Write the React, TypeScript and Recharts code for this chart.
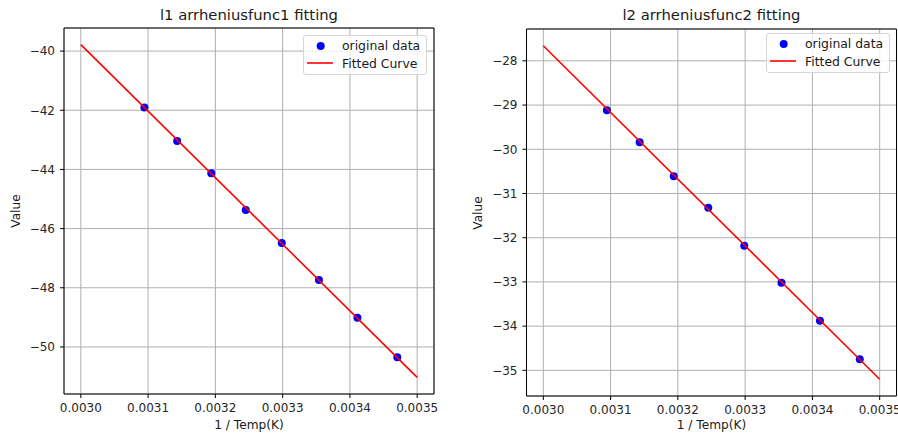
import React from "react";
import { CartesianGrid, ComposedChart, Legend, Line, ReferenceArea, Scatter, XAxis, YAxis } from "recharts";

const invTemp = [0.0030945, 0.0031432, 0.0031939, 0.0032452, 0.0032987, 0.003354, 0.0034112, 0.0034704];
const l1Values = [-41.91, -43.04, -44.13, -45.37, -46.49, -47.74, -49.01, -50.35];
const l2Values = [-29.12, -29.84, -30.61, -31.32, -32.18, -33.02, -33.88, -34.75];

const fitX = [0.003, 0.0035];
const l1Fit = [-39.78, -51.03];
const l2Fit = [-27.66, -35.2];

const xTicks = [0.003, 0.0031, 0.0032, 0.0033, 0.0034, 0.0035];
const l1Ticks = [-50, -48, -46, -44, -42, -40];
const l2Ticks = [-35, -34, -33, -32, -31, -30, -29, -28];

const xDomain: [number, number] = [0.002975, 0.003525];
const FONT = "'DejaVu Sans', sans-serif";

const fmtY = (v: number) => (v < 0 ? "\u2212" + Math.abs(v) : String(v));

function MplLegend({ payload }: any) {
  const items = [...(payload || [])].sort((a: any) => (a.type === "circle" ? -1 : 1));
  return (
    <div
      style={{
        border: "1px solid #d6d6d6",
        borderRadius: 3,
        background: "rgba(255,255,255,0.8)",
        padding: "1px 6px 2px 3px",
        fontFamily: FONT,
        fontSize: 12.4,
        color: "#1a1a1a",
        whiteSpace: "nowrap",
      }}
    >
      {items.map((it: any) => (
        <div key={it.value} style={{ display: "flex", alignItems: "center", height: 17.6 }}>
          <svg width={35} height={12} style={{ flex: "none" }}>
            {it.type === "circle" ? (
              <circle cx={13.7} cy={6} r={4} fill="#0000ff" />
            ) : (
              <line x1={0} x2={26} y1={6} y2={6} stroke="#ff0000" strokeWidth={1.6} />
            )}
          </svg>
          <span>{it.value}</span>
        </div>
      ))}
    </div>
  );
}

interface PanelProps {
  left: number;
  title: string;
  values: number[];
  fit: number[];
  yTicks: number[];
  yDomain: [number, number];
  margin: { top: number; right: number; bottom: number; left: number };
  legendPos: { left: number; top: number };
  yLabelX: number;
}

function Panel({ left, title, values, fit, yTicks, yDomain, margin, legendPos, yLabelX }: PanelProps) {
  const W = 449;
  const H = 437;
  const points = invTemp.map((x, i) => ({ x, y: values[i] }));
  const fitLine = fitX.map((x, i) => ({ x, y: fit[i] }));
  const plotLeft = margin.left + 50;
  const plotW = W - plotLeft - margin.right;
  const plotTop = margin.top;
  const plotH = H - margin.top - margin.bottom - 30;
  const tickStyle = { fontSize: 12, fill: "#262626", fontFamily: FONT };

  return (
    <div style={{ position: "absolute", left, top: 0, width: W, height: H }}>
      <ComposedChart width={W} height={H} margin={margin}>
        <CartesianGrid stroke="#b0b0b0" strokeWidth={1} />
        <XAxis
          type="number"
          dataKey="x"
          domain={xDomain}
          ticks={xTicks}
          allowDataOverflow
          tickFormatter={(v: number) => v.toFixed(4)}
          axisLine={false}
          tickLine={{ stroke: "#000" }}
          tickSize={4}
          tickMargin={5}
          height={30}
          tick={tickStyle}
          interval={0}
        />
        <YAxis
          type="number"
          dataKey="y"
          domain={yDomain}
          ticks={yTicks}
          allowDataOverflow
          tickFormatter={fmtY}
          axisLine={false}
          tickLine={{ stroke: "#000" }}
          tickSize={4}
          tickMargin={5}
          width={50}
          tick={tickStyle}
          interval={0}
        />
        <ReferenceArea
          x1={xDomain[0]}
          x2={xDomain[1]}
          y1={yDomain[0]}
          y2={yDomain[1]}
          fill="none"
          stroke="#000"
          strokeWidth={1}
          fillOpacity={0}
        />
        <Scatter
          name="original data"
          data={points}
          dataKey="y"
          legendType="circle"
          fill="#0000ff"
          isAnimationActive={false}
          shape={(p: any) => <circle cx={p.cx} cy={p.cy} r={4} fill="#0000ff" />}
        />
        <Line
          name="Fitted Curve"
          data={fitLine}
          dataKey="y"
          type="linear"
          stroke="#ff0000"
          strokeWidth={1.6}
          dot={false}
          legendType="line"
          isAnimationActive={false}
          zIndex={700}
        />
        <Legend
          layout="horizontal"
          verticalAlign="middle"
          align="center"
          content={<MplLegend />}
          wrapperStyle={{ left: legendPos.left, top: legendPos.top, width: "auto", height: "auto" }}
        />
      </ComposedChart>
      <div
        style={{
          position: "absolute",
          left: plotLeft,
          width: plotW,
          top: 8,
          textAlign: "center",
          fontFamily: FONT,
          fontSize: 14.8,
          lineHeight: "14px",
          color: "#1a1a1a",
          whiteSpace: "nowrap",
        }}
      >
        {title}
      </div>
      <div
        style={{
          position: "absolute",
          left: plotLeft,
          width: plotW,
          top: 419,
          textAlign: "center",
          fontFamily: FONT,
          fontSize: 12.2,
          lineHeight: "12px",
          color: "#1a1a1a",
          whiteSpace: "nowrap",
        }}
      >
        1 / Temp(K)
      </div>
      <div
        style={{
          position: "absolute",
          left: yLabelX - 30,
          top: plotTop + plotH / 2 - 7,
          width: 60,
          height: 14,
          textAlign: "center",
          fontFamily: FONT,
          fontSize: 12.2,
          lineHeight: "14px",
          color: "#1a1a1a",
          transform: "rotate(-90deg)",
        }}
      >
        Value
      </div>
    </div>
  );
}

export default function App() {
  return (
    <div style={{ position: "absolute", left: 0, top: 0, width: 898, height: 437, background: "#fff", overflow: "hidden" }}>
      <Panel
        left={0}
        title="l1 arrheniusfunc1 fitting"
        values={l1Values}
        fit={l1Fit}
        yTicks={l1Ticks}
        yDomain={[-51.59, -39.22]}
        margin={{ top: 28, right: 15, bottom: 13, left: 14 }}
        legendPos={{ left: 303, top: 35 }}
        yLabelX={16}
      />
      <Panel
        left={449}
        title="l2 arrheniusfunc2 fitting"
        values={l2Values}
        fit={l2Fit}
        yTicks={l2Ticks}
        yDomain={[-35.58, -27.28]}
        margin={{ top: 29, right: 1.5, bottom: 11, left: 27.5 }}
        legendPos={{ left: 317, top: 33 }}
        yLabelX={28.5}
      />
    </div>
  );
}
